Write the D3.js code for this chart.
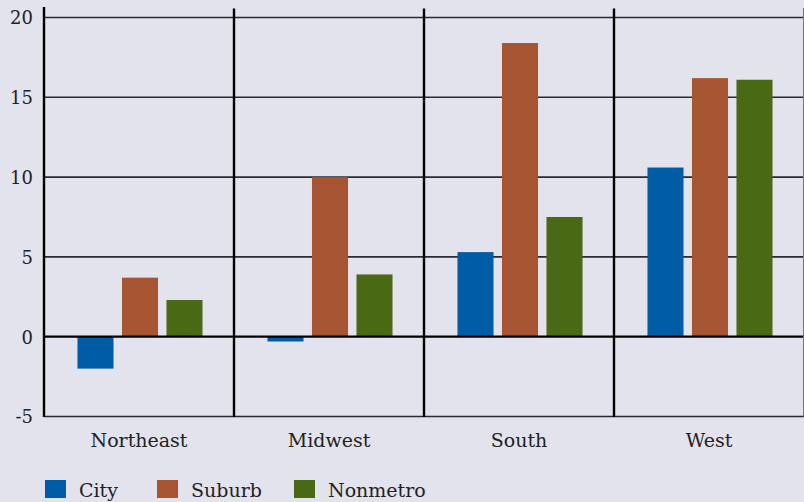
<!DOCTYPE html>
<html><head><meta charset="utf-8">
<script src="https://cdn.jsdelivr.net/npm/d3@7"></script>
<style>
html,body{margin:0;padding:0;background:#e3e3ed;}
svg{display:block;}
svg text{font-family:"DejaVu Serif",serif !important;fill:#222;}
</style></head>
<body>
<script>
const regions = ["Northeast","Midwest","South","West"];
const series = ["City","Suburb","Nonmetro"];
const city = [-2.0, -0.3, 5.3, 10.6];
const suburb = [3.7, 10.0, 18.4, 16.2];
const nonmetro = [2.3, 3.9, 7.5, 16.1];
const yTicks = [-5, 0, 5, 10, 15, 20];
const colors = ["#005ca5", "#a65432", "#4a6915"];

const W = 804, H = 502;
const svg = d3.select("body").append("svg").attr("width", W).attr("height", H);
svg.append("rect").attr("width", W).attr("height", H).attr("fill", "#e3e3ed");

const x0 = d3.scaleBand().domain(regions).range([44, 804]).padding(0);
const x1 = d3.scaleBand().domain(series).range([1, x0.bandwidth() + 1]).paddingInner(0.19).paddingOuter(0.73);
const y = d3.scaleLinear().domain([-5, 20]).range([416.5, 17.5]);

// gridlines
svg.append("g").selectAll("line").data(yTicks.filter(d => d !== 0)).join("line")
  .attr("x1", 44).attr("x2", 804).attr("y1", d => y(d)).attr("y2", d => y(d))
  .attr("stroke", "#2a2a30").attr("stroke-width", 1.6);

// y axis labels
const yAxis = d3.axisLeft(y).tickValues(yTicks).tickSize(0).tickPadding(11).tickFormat(d => String(d));
const ga = svg.append("g").attr("transform", "translate(44,0)").call(yAxis);
ga.attr("font-family", null);
ga.select(".domain").remove();
ga.selectAll("text").attr("font-size", 18).attr("fill", "#222").attr("dy", "0.36em");

// bars
const data = regions.map((r, i) => ({region: r, vals: [city[i], suburb[i], nonmetro[i]]}));
const g = svg.append("g");
data.forEach(d => {
  series.forEach((s, j) => {
    const v = d.vals[j];
    g.append("rect")
      .attr("x", x0(d.region) + x1(s))
      .attr("width", x1.bandwidth())
      .attr("y", y(Math.max(0, v)))
      .attr("height", Math.abs(y(v) - y(0)))
      .attr("fill", colors[j]);
  });
});

// zero line
svg.append("line").attr("x1", 44).attr("x2", 804).attr("y1", y(0)).attr("y2", y(0))
  .attr("stroke", "#000").attr("stroke-width", 2.2);

// right edge
svg.append("line").attr("x1", 803.5).attr("x2", 803.5).attr("y1", 8).attr("y2", y(-5))
  .attr("stroke", "#777").attr("stroke-width", 1);

// vertical separators
const seps = regions.map(r => x0(r));
svg.append("g").selectAll("line").data(seps).join("line")
  .attr("x1", d => d).attr("x2", d => d)
  .attr("y1", (d, i) => i === 0 ? 7 : 8.5).attr("y2", y(-5) + 0.5)
  .attr("stroke", "#000").attr("stroke-width", 2.4);

// category labels
const xAxis = d3.axisBottom(x0).tickSize(0).tickPadding(17);
const gx = svg.append("g").attr("transform", `translate(0,${y(-5)})`).call(xAxis);
gx.attr("font-family", null);
gx.select(".domain").remove();
gx.selectAll("text").attr("font-size", 19).attr("fill", "#222");

// legend
const legX = [45, 157, 294];
const leg = svg.append("g");
series.forEach((s, j) => {
  leg.append("rect").attr("x", legX[j]).attr("y", 480).attr("width", 21).attr("height", 18).attr("fill", colors[j]);
  leg.append("text").attr("x", legX[j] + 34).attr("y", 497).attr("font-size", 19).text(s);
});
</script>
</body></html>
